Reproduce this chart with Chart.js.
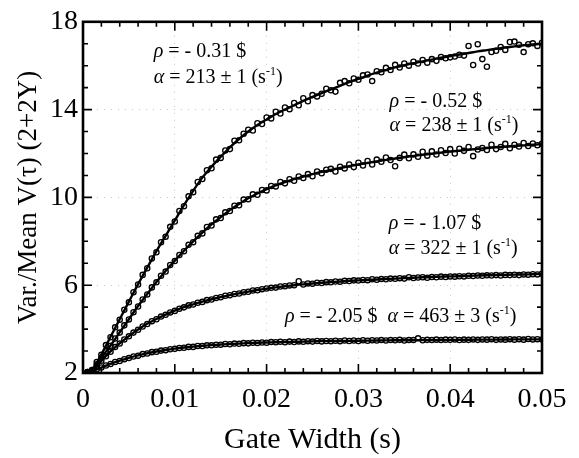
<!DOCTYPE html>
<html><head><meta charset="utf-8">
<script src="https://cdn.jsdelivr.net/npm/chart.js@4.4.0/dist/chart.umd.min.js"></script>
<style>html,body{margin:0;padding:0;background:#fff;}canvas{display:block}</style>
</head><body>
<canvas id="c" width="579" height="458"></canvas>
<script>
// Gate widths of the measured points (s)
const gateWidth = [
0.0005,0.001,0.0015,0.002,0.0025,0.003,0.0035,0.004,0.0045,0.005,
0.0055,0.006,0.0065,0.007,0.0075,0.008,0.0085,0.009,0.0095,0.010,
0.0105,0.011,0.0115,0.012,0.0125,0.013,0.0135,0.014,0.0145,0.015,
0.0155,0.016,0.0165,0.017,0.0175,0.018,0.0185,0.019,0.0195,0.020,
0.0205,0.021,0.0215,0.022,0.0225,0.023,0.0235,0.024,0.0245,0.025,
0.0255,0.026,0.0265,0.027,0.0275,0.028,0.0285,0.029,0.0295,0.030,
0.0305,0.031,0.0315,0.032,0.0325,0.033,0.0335,0.034,0.0345,0.035,
0.0355,0.036,0.0365,0.037,0.0375,0.038,0.0385,0.039,0.0395,0.040,
0.0405,0.041,0.0415,0.042,0.0425,0.043,0.0435,0.044,0.0445,0.045,
0.0455,0.046,0.0465,0.047,0.0475,0.048,0.0485,0.049,0.0495,0.050];

// Measured Var./Mean for each reactivity
const obsRho031 = [
2.04,2.14,2.5,2.83,3.27,3.63,4.08,4.43,4.88,5.22,
5.68,6.03,6.47,6.77,7.22,7.5,7.96,8.21,8.66,8.9,
9.38,9.6,10.05,10.24,10.7,10.84,11.24,11.33,11.72,11.8,
12.14,12.2,12.58,12.6,12.9,13.08,13.05,13.38,13.34,13.64,
13.6,13.9,13.82,14.1,14.02,14.3,14.2,14.52,14.38,14.66,
14.6,14.72,14.95,14.88,14.82,15.22,15.3,15.2,15.42,15.36,
15.56,15.6,15.3,15.75,15.7,15.9,15.8,16.04,15.92,16.1,
16.0,16.18,16.1,16.26,16.14,16.3,16.22,16.4,16.34,16.38,
16.42,16.5,16.46,16.9,16.03,16.98,16.3,15.95,16.62,16.68,
16.85,16.72,17.08,17.1,16.95,16.62,16.98,17.02,16.9,17.05];
const obsRho052 = [
2.04,2.13,2.4,2.69,2.99,3.24,3.57,3.84,4.17,4.44,
4.77,5.03,5.35,5.58,5.9,6.13,6.43,6.62,6.92,7.1,
7.38,7.55,7.84,7.96,8.25,8.36,8.65,8.72,9.0,9.06,
9.32,9.38,9.62,9.64,9.9,9.92,10.14,10.12,10.34,10.32,
10.52,10.5,10.7,10.64,10.83,10.76,10.95,10.88,11.06,10.96,
11.18,11.1,11.26,11.3,11.18,11.4,11.32,11.5,11.38,11.58,
11.45,11.66,11.5,11.72,11.62,11.82,11.7,11.42,11.8,11.95,
11.78,11.96,11.85,12.08,11.9,12.1,11.95,12.15,12.02,12.2,
12.0,12.22,12.12,12.3,11.88,12.18,12.25,12.16,12.4,12.2,
12.3,12.44,12.24,12.4,12.32,12.48,12.34,12.46,12.38,12.44];
const obsRho107 = [
2.03,2.11,2.33,2.56,2.76,2.97,3.18,3.34,3.53,3.67,
3.84,3.97,4.12,4.23,4.36,4.45,4.57,4.65,4.76,4.83,
4.93,4.99,5.08,5.12,5.2,5.24,5.32,5.35,5.42,5.45,
5.52,5.54,5.6,5.62,5.68,5.7,5.76,5.77,5.82,5.85,
5.88,5.89,5.94,5.95,5.99,6.0,6.18,6.03,6.08,6.07,
6.11,6.1,6.14,6.13,6.17,6.16,6.2,6.19,6.22,6.21,
6.24,6.23,6.27,6.25,6.28,6.27,6.3,6.29,6.32,6.3,
6.36,6.33,6.35,6.36,6.34,6.37,6.36,6.39,6.37,6.4,
6.39,6.41,6.4,6.43,6.42,6.44,6.43,6.45,6.44,6.46,
6.44,6.47,6.46,6.48,6.46,6.49,6.48,6.5,6.49,6.52];
const obsRho205 = [
2.02,2.08,2.17,2.25,2.34,2.41,2.5,2.55,2.63,2.68,
2.75,2.79,2.86,2.89,2.95,2.97,3.02,3.04,3.08,3.1,
3.14,3.15,3.19,3.19,3.23,3.23,3.26,3.26,3.29,3.29,
3.32,3.31,3.34,3.33,3.36,3.35,3.38,3.37,3.39,3.38,
3.41,3.4,3.42,3.4,3.43,3.41,3.44,3.42,3.45,3.43,
3.46,3.44,3.46,3.45,3.47,3.45,3.48,3.46,3.48,3.46,
3.49,3.47,3.49,3.48,3.5,3.48,3.5,3.49,3.51,3.48,
3.5,3.5,3.58,3.49,3.51,3.5,3.52,3.5,3.52,3.51,
3.53,3.5,3.52,3.51,3.53,3.51,3.53,3.52,3.54,3.51,
3.53,3.52,3.54,3.52,3.54,3.52,3.55,3.53,3.54,3.53];

// Fitted curves
const fitWidth = [0,0.001,0.002,0.003,0.004,0.005,0.006,0.007,0.008,0.009,0.010,
0.011,0.012,0.013,0.014,0.015,0.016,0.017,0.018,0.019,0.020,
0.021,0.022,0.023,0.024,0.025,0.026,0.027,0.028,0.029,0.030,
0.031,0.032,0.033,0.034,0.035,0.036,0.037,0.038,0.039,0.040,
0.041,0.042,0.043,0.044,0.045,0.046,0.047,0.048,0.049,0.050];
const fitRho031 = [2.0,2.15,2.85,3.65,4.45,5.25,6.05,6.8,7.55,8.25,8.95,9.65,10.3,10.9,11.4,11.85,12.28,12.66,13.0,13.3,13.55,13.8,14.0,14.2,14.4,14.58,14.75,14.92,15.08,15.25,15.4,15.55,15.68,15.8,15.92,16.02,16.11,16.2,16.28,16.36,16.44,16.51,16.58,16.65,16.71,16.77,16.83,16.88,16.93,16.97,17.0];
const fitRho052 = [2.0,2.12,2.7,3.25,3.85,4.45,5.05,5.6,6.15,6.65,7.12,7.57,8.0,8.4,8.77,9.1,9.42,9.7,9.96,10.18,10.38,10.55,10.7,10.83,10.95,11.06,11.16,11.25,11.34,11.42,11.5,11.57,11.64,11.71,11.77,11.83,11.89,11.94,11.99,12.04,12.09,12.13,12.17,12.21,12.25,12.28,12.31,12.34,12.37,12.4,12.42];
const fitRho107 = [2.0,2.1,2.55,2.98,3.35,3.68,3.98,4.24,4.46,4.66,4.84,5.0,5.13,5.25,5.36,5.46,5.55,5.63,5.71,5.78,5.84,5.9,5.95,6.0,6.04,6.08,6.11,6.14,6.17,6.2,6.22,6.24,6.26,6.28,6.3,6.32,6.34,6.36,6.37,6.39,6.4,6.41,6.43,6.44,6.45,6.46,6.47,6.48,6.49,6.5,6.51];
const fitRho205 = [2.0,2.07,2.25,2.42,2.56,2.69,2.8,2.9,2.98,3.05,3.11,3.16,3.2,3.24,3.27,3.3,3.32,3.34,3.36,3.38,3.39,3.4,3.41,3.42,3.43,3.44,3.45,3.455,3.46,3.465,3.47,3.475,3.48,3.485,3.49,3.49,3.495,3.5,3.5,3.505,3.51,3.51,3.515,3.52,3.52,3.52,3.525,3.53,3.53,3.53,3.535];

const xTickLabels = ['0','0.01','0.02','0.03','0.04','0.05'];
const yTickLabels = ['2','6','10','14','18'];
const rhoText = ['- 0.31 $','- 0.52 $','- 1.07 $','- 2.05 $'];
const alphaText = ['213 ± 1','238 ± 1','322 ± 1','463 ± 3'];

const SERIF = '"Liberation Serif","DejaVu Serif",serif';
const pts = (xs, ys) => xs.map((x, i) => ({x: x, y: ys[i]}));

function scatterSet(ys){
  return {type:'scatter', data: pts(gateWidth, ys), showLine:false,
    pointStyle:'circle', pointRadius:2.6, pointBorderWidth:1.35,
    pointBorderColor:'#000', pointBackgroundColor:'rgba(255,255,255,0)', pointHoverRadius:2.6};
}
function lineSet(ys){
  return {type:'line', data: pts(fitWidth, ys), borderColor:'#000', borderWidth:2.4,
    pointRadius:0, fill:false, cubicInterpolationMode:'monotone'};
}

// label anchors in data coordinates (x, row-1 y, row-2 y)
const labelAnchors = [
  {x:0.0077, y1:16.7, y2:15.55},
  {x:0.0334, y1:14.45, y2:13.35},
  {x:0.0333, y1:8.9, y2:7.75},
  {x:0.0220, y1:4.62, inline:true}
];

function drawRuns(ctx, x, y, runs){
  for (const r of runs){
    const size = r.sup ? 12 : 20;
    ctx.font = (r.it ? 'italic ' : '') + size + 'px ' + SERIF;
    ctx.fillText(r.t, x, r.sup ? y - 8 : y);
    x += ctx.measureText(r.t).width;
  }
  return x;
}

const framePlugin = {
  id:'frame',
  afterDraw(chart){
    const {ctx, chartArea:a, scales:{x, y}} = chart;
    ctx.save();
    ctx.strokeStyle = '#000';
    ctx.lineWidth = 1.6;
    ctx.beginPath();
    for (let v = 0; v <= 50; v += 2){
      const px = x.getPixelForValue(v / 1000);
      const L = v % 10 === 0 ? 9 : 5;
      ctx.moveTo(px, a.bottom); ctx.lineTo(px, a.bottom - L);
      ctx.moveTo(px, a.top); ctx.lineTo(px, a.top + L);
    }
    for (let v = 2; v <= 18; v++){
      const py = y.getPixelForValue(v);
      const L = (v - 2) % 4 === 0 ? 9 : 5;
      ctx.moveTo(a.left, py); ctx.lineTo(a.left + L, py);
      ctx.moveTo(a.right, py); ctx.lineTo(a.right - L, py);
    }
    ctx.stroke();
    ctx.lineWidth = 2.6;
    ctx.strokeRect(a.left, a.top, a.right - a.left, a.bottom - a.top);

    ctx.fillStyle = '#000';
    ctx.textBaseline = 'alphabetic';
    labelAnchors.forEach((an, i) => {
      const px = x.getPixelForValue(an.x);
      const p1 = y.getPixelForValue(an.y1) + 7;
      const alphaRuns = [{t:'α', it:true}, {t:' = ' + alphaText[i] + ' (s'}, {t:'-1', sup:true}, {t:')'}];
      let nx = drawRuns(ctx, px, p1, [{t:'ρ', it:true}, {t:' = ' + rhoText[i]}]);
      if (an.inline){
        drawRuns(ctx, nx + 10, p1, alphaRuns);
      } else {
        const p2 = y.getPixelForValue(an.y2) + 7;
        drawRuns(ctx, px, p2, alphaRuns);
      }
    });
    ctx.restore();
  }
};

new Chart(document.getElementById('c'), {
  data: {datasets: [
    lineSet(fitRho031), lineSet(fitRho052), lineSet(fitRho107), lineSet(fitRho205),
    scatterSet(obsRho031), scatterSet(obsRho052), scatterSet(obsRho107), scatterSet(obsRho205)
  ]},
  options: {
    responsive:false, animation:false, devicePixelRatio:1,
    layout:{padding:{left:0, right:37, top:19, bottom:0}},
    plugins:{legend:{display:false}, tooltip:{enabled:false}},
    scales:{
      x:{type:'linear', min:0, max:0.05,
        ticks:{stepSize:0.01, autoSkip:false, maxRotation:0, color:'#000', padding:10,
          font:{family:SERIF, size:28}, callback:(v, i) => xTickLabels[i]},
        grid:{color:'rgba(0,0,0,0.22)', lineWidth:1, drawTicks:false},
        border:{display:false, dash:[1,6]},
        title:{display:true, text:'Gate Width (s)', color:'#000', font:{family:SERIF, size:30}, padding:{top:0, bottom:0}},
        afterFit(s){ s.height = 85; }
      },
      y:{type:'linear', min:2, max:18,
        ticks:{stepSize:4, autoSkip:false, color:'#000', padding:5,
          font:{family:SERIF, size:28}, callback:(v, i) => yTickLabels[i]},
        grid:{color:'rgba(0,0,0,0.22)', lineWidth:1, drawTicks:false},
        border:{display:false, dash:[1,6]},
        title:{display:true, text:'Var./Mean V(τ) (2+2Y)', color:'#000', font:{family:SERIF, size:27}, padding:{top:13, bottom:0}},
        afterFit(s){ s.width = 83; }
      }
    }
  },
  plugins:[framePlugin]
});
</script>
</body></html>
